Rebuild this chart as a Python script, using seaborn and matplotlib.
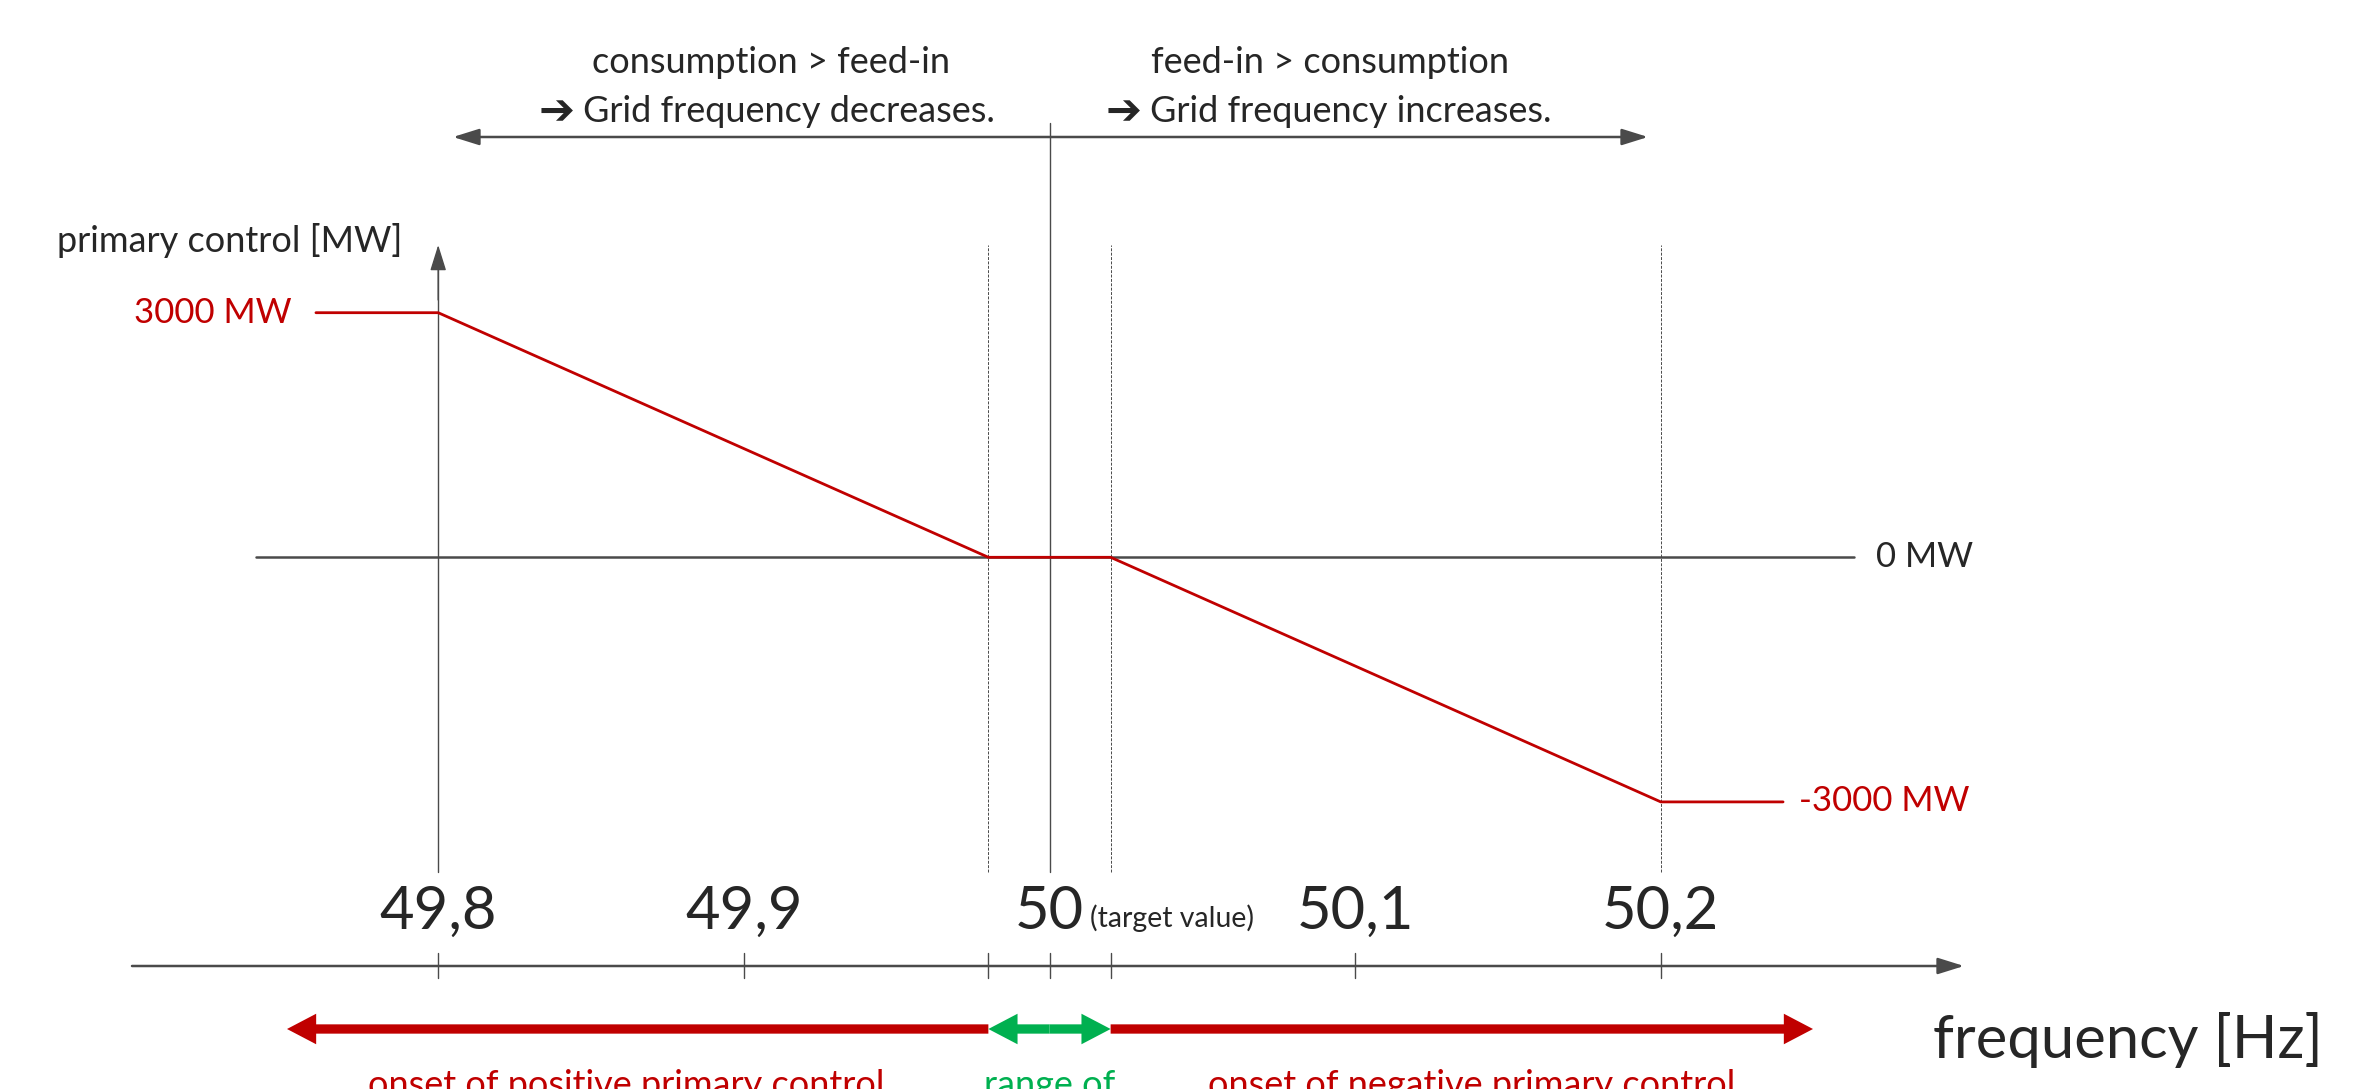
import numpy as np
import pandas as pd
import seaborn as sns
import matplotlib
matplotlib.use("Agg")
import matplotlib.pyplot as plt
from matplotlib.patches import FancyArrowPatch

# ---------------- data ----------------
FREQ_HZ = [49.76, 49.80, 49.98, 50.02, 50.20, 50.24]
POWER_MW = [3000, 3000, 0, 0, -3000, -3000]
TICK_FREQ = [49.8, 49.9, 50.0, 50.1, 50.2]
TICK_LABELS = ["49,8", "49,9", "50", "50,1", "50,2"]
MINOR_TICKS = [49.98, 50.02]
DEADBAND = [49.98, 50.02]
POWER_LABELS = ["3000 MW", "0 MW", "-3000 MW"]

RED = "#C00000"
GREEN = "#00B050"
GREY = "#4a4a4a"

# ---------------- pixel layout -> data coords ----------------
W, H = 2366, 1089
X50, PX_HZ = 1049.5, 3056.5          # pixel of 50 Hz, px per Hz
Y0, PX_MW = 557.3, 244.6 / 3000       # pixel of 0 MW, px per MW


def fx(xp):
    return 50 + (xp - X50) / PX_HZ


def fy(yp):
    return (Y0 - yp) / PX_MW


sns.set_theme(style="white")
plt.rcParams["font.family"] = ["Lato", "DejaVu Sans"]

fig = plt.figure(figsize=(W / 100, H / 100), dpi=100)
ax = fig.add_axes([0, 0, 1, 1])
ax.set_xlim(fx(0), fx(W))
ax.set_ylim(fy(H), fy(0))
ax.axis("off")

# zero line
ax.plot([fx(256), fx(1854)], [0, 0], color=GREY, lw=1.8, zorder=1)

# vertical lines
ax.plot([49.8, 49.8], [fy(872), fy(260)], color=GREY, lw=1, zorder=1)
ax.plot([50.0, 50.0], [fy(872), fy(123)], color=GREY, lw=1, zorder=1)
for f in DEADBAND + [50.2]:
    ax.plot([f, f], [fy(872), fy(245)], color=GREY, lw=0.7,
            ls=(0, (3, 1.5)), zorder=1)


def arrow(p0, p1, style, color=GREY, lw=1.5, ms=10):
    a = FancyArrowPatch(p0, p1, arrowstyle=style, color=color, lw=lw,
                        mutation_scale=ms, shrinkA=0, shrinkB=0, zorder=3)
    ax.add_patch(a)


# y-axis arrow head
arrow((49.8, fy(300)), (49.8, fy(245)), "-|>,head_length=1.6,head_width=0.5", lw=1)
# top double arrow
arrow((fx(453), fy(137)), (fx(1648), fy(137)),
      "<|-|>,head_length=1.6,head_width=0.5", lw=1.8)
# x axis
arrow((fx(132), fy(966)), (fx(1964), fy(966)),
      "-|>,head_length=1.6,head_width=0.5", lw=1.8)
for f in TICK_FREQ + MINOR_TICKS:
    ax.plot([f, f], [fy(953), fy(978)], color=GREY, lw=1, zorder=1)

# bottom thick arrows
thick = "simple,head_length=21,head_width=22,tail_width=6.7"
arrow((DEADBAND[0], fy(1029)), (fx(287), fy(1029)), thick, color=RED, lw=0, ms=1)
arrow((DEADBAND[1], fy(1029)), (fx(1813), fy(1029)), thick, color=RED, lw=0, ms=1)
arrow((50.0, fy(1029)), (DEADBAND[0], fy(1029)), thick, color=GREEN, lw=0, ms=1)
arrow((50.0, fy(1029)), (DEADBAND[1], fy(1029)), thick, color=GREEN, lw=0, ms=1)

# characteristic curve
df = pd.DataFrame({"freq": FREQ_HZ, "power": POWER_MW})
sns.lineplot(data=df, x="freq", y="power", color=RED, lw=2, ax=ax,
             sort=False, zorder=4)

# ---------------- texts ----------------
MID = 26
for f, lab in zip(TICK_FREQ, TICK_LABELS):
    ax.text(f, fy(912), lab, ha="center", va="center", fontsize=43)
ax.text(fx(1090), fy(918), "(target value)", ha="left", va="center", fontsize=20.5)
ax.text(fx(1933), fy(1040), "frequency [Hz]", ha="left", va="center", fontsize=43)

ax.text(fx(57), fy(241), "primary control [MW]", ha="left", va="center", fontsize=MID)
ax.text(fx(292), fy(313), POWER_LABELS[0], ha="right", va="center",
        fontsize=25, color=RED)
ax.text(fx(1876), fy(557), POWER_LABELS[1], ha="left", va="center", fontsize=25)
ax.text(fx(1799), fy(801), POWER_LABELS[2], ha="left", va="center",
        fontsize=25, color=RED)

ax.text(fx(592), fy(63), "consumption > feed-in", ha="left", va="center", fontsize=MID)
ax.text(fx(539), fy(112), "\u2794", ha="left", va="center", fontsize=31,
        fontweight="bold", family="DejaVu Sans")
ax.text(fx(583), fy(112), "Grid frequency decreases.", ha="left",
        va="center", fontsize=MID)
ax.text(fx(1151), fy(63), "feed-in > consumption", ha="left", va="center", fontsize=MID)
ax.text(fx(1106), fy(112), "\u2794", ha="left", va="center", fontsize=31,
        fontweight="bold", family="DejaVu Sans")
ax.text(fx(1150), fy(112), "Grid frequency increases.", ha="left",
        va="center", fontsize=MID)

ax.text(fx(626), fy(1096), "onset of positive primary control", ha="center",
        va="baseline", fontsize=MID, color=RED)
ax.text(50.0, fy(1096), "range of", ha="center", va="baseline", fontsize=MID,
        color=GREEN)
ax.text(fx(1472), fy(1096), "onset of negative primary control", ha="center",
        va="baseline", fontsize=MID, color=RED)

fig.savefig("out.png", dpi=100, facecolor="white")
